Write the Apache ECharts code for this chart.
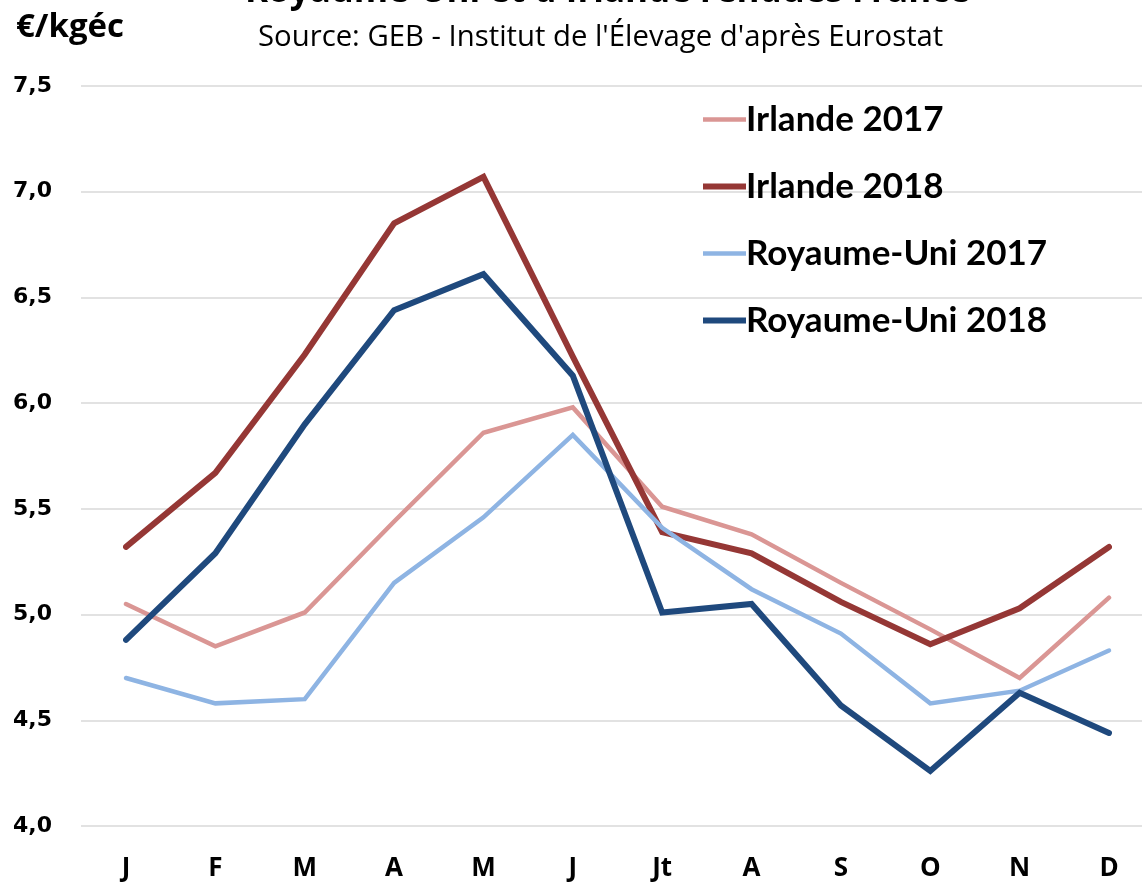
<!DOCTYPE html>
<html>
<head>
<meta charset="utf-8">
<script src="https://cdn.jsdelivr.net/npm/echarts@6/dist/echarts.min.js"></script>
<style>
  html, body { margin: 0; padding: 0; background: #fff; }
  #chart { width: 1142px; height: 882px; }
</style>
</head>
<body>
<div id="chart"></div>
<script>
// Monthly prices, €/kg carcass equivalent
const months = ['J', 'F', 'M', 'A', 'M', 'J', 'Jt', 'A', 'S', 'O', 'N', 'D'];
const irlande2017 = [5.05, 4.85, 5.01, 5.44, 5.86, 5.98, 5.51, 5.38, 5.15, 4.93, 4.70, 5.08];
const irlande2018 = [5.32, 5.67, 6.23, 6.85, 7.07, 6.22, 5.39, 5.29, 5.06, 4.86, 5.03, 5.32];
const ru2017 = [4.70, 4.58, 4.60, 5.15, 5.46, 5.85, 5.41, 5.12, 4.91, 4.58, 4.64, 4.83];
const ru2018 = [4.88, 5.29, 5.90, 6.44, 6.61, 6.13, 5.01, 5.05, 4.57, 4.26, 4.63, 4.44];

const chart = echarts.init(document.getElementById('chart'), null, { renderer: 'canvas' });

const SERIES_DEF = [
  { name: 'Irlande 2017', data: irlande2017, color: '#DA9694', width: 4.5 },
  { name: 'Irlande 2018', data: irlande2018, color: '#953735', width: 6 },
  { name: 'Royaume-Uni 2017', data: ru2017, color: '#8EB4E3', width: 4.5 },
  { name: 'Royaume-Uni 2018', data: ru2018, color: '#1F497D', width: 6 }
];

// Legend key: a short horizontal bar with the series' stroke thickness
function keyIcon(h) {
  return 'path://M0,0 L43,0 L43,' + h + ' L0,' + h + ' Z';
}

const yMin = 4.0, yMax = 7.5, yStep = 0.5;

chart.setOption({
  animation: false,
  backgroundColor: '#ffffff',
  graphic: [
    {
      type: 'text', left: 245, top: -25,
      style: {
        text: "Royaume-Uni et d'Irlande rendues France",
        font: 'bold 35px "Open Sans", sans-serif',
        fill: '#000'
      }
    },
    {
      type: 'text', left: 258, top: 23,
      style: {
        text: "Source: GEB - Institut de l'Élevage d'après Eurostat",
        font: '29.3px "Open Sans", sans-serif',
        fill: '#000'
      }
    },
    {
      type: 'text', left: 16, top: 11,
      style: {
        text: '€/kgéc',
        font: 'bold 33px "Open Sans", sans-serif',
        fill: '#000'
      }
    }
  ],
  legend: {
    orient: 'vertical',
    left: 703,
    top: 102,
    itemWidth: 43,
    itemHeight: 30,
    itemGap: 32,
    padding: 0,
    selectedMode: false,
    textStyle: {
      fontFamily: 'Lato, "Open Sans", sans-serif',
      fontWeight: 'bold',
      fontSize: 35,
      color: '#000',
      padding: [0, 0, 0, -5]
    },
    data: SERIES_DEF.map(s => ({
      name: s.name,
      icon: keyIcon(s.width),
      itemStyle: { color: s.color }
    }))
  },
  grid: [
    // plot area holding the lines (first/last month at the edges)
    { left: 126, right: 33, top: 86, height: 740 },
    // full-width band carrying the horizontal gridlines and value labels
    { left: 81, right: 0, top: 86, height: 740 }
  ],
  xAxis: [
    {
      gridIndex: 0,
      type: 'category',
      data: months,
      boundaryGap: false,
      axisLine: { show: false },
      axisTick: { show: false },
      splitLine: { show: false },
      axisLabel: {
        margin: 30,
        fontFamily: '"Open Sans", sans-serif',
        fontWeight: 'bold',
        fontSize: 26,
        color: '#000'
      }
    },
    {
      gridIndex: 1,
      type: 'value',
      show: false
    }
  ],
  yAxis: [
    {
      gridIndex: 0,
      type: 'value',
      min: yMin, max: yMax, interval: yStep,
      show: false
    },
    {
      gridIndex: 1,
      type: 'value',
      min: yMin, max: yMax, interval: yStep,
      axisLine: { show: false },
      axisTick: { show: false },
      splitLine: { lineStyle: { color: '#D9D9D9', width: 1.5 } },
      axisLabel: {
        margin: 29,
        fontFamily: '"DejaVu Sans", Verdana, sans-serif',
        fontWeight: 'bold',
        fontSize: 22,
        color: '#000',
        formatter: v => v.toFixed(1).replace('.', ',')
      }
    }
  ],
  series: SERIES_DEF.map(s => ({
    name: s.name,
    type: 'line',
    xAxisIndex: 0,
    yAxisIndex: 0,
    data: s.data,
    symbol: 'none',
    lineStyle: { color: s.color, width: s.width, cap: 'round', join: 'miter' },
    itemStyle: { color: s.color },
    emphasis: { disabled: true }
  }))
});
</script>
</body>
</html>
